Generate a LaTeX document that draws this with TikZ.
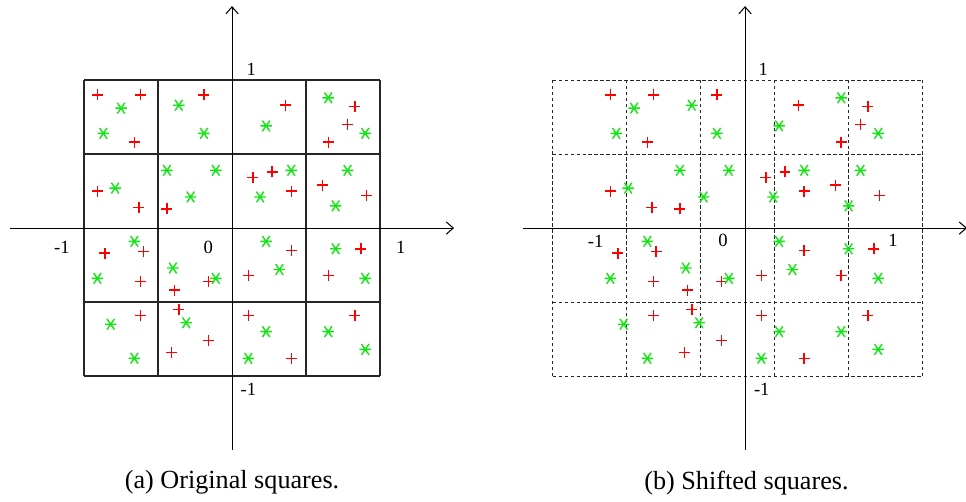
\documentclass[tikz,border=0pt]{standalone}
\usepackage{fontspec}
\setmainfont{Liberation Serif}
\usetikzlibrary{arrows.meta}
\definecolor{sqred}{rgb}{1,0,0}
\definecolor{sqgreen}{rgb}{0.08,0.9,0.08}
\definecolor{sqline}{HTML}{262626}
% sample points, shared by both panels
\newcommand{\redpts}{-0.91/0.90, -0.62/0.90, -0.66/0.58, -0.19/0.90, -0.91/0.25, -0.63/0.14,
  -0.44/0.13, 0.36/0.83, 0.83/0.82, 0.78/0.70, 0.65/0.58, 0.14/0.34, 0.27/0.38, 0.40/0.25,
  0.61/0.29, 0.91/0.22, -0.86/-0.17, -0.60/-0.16, -0.62/-0.36, -0.16/-0.36, -0.39/-0.42,
  -0.36/-0.55, -0.16/-0.76, -0.41/-0.84, -0.62/-0.59, 0.40/-0.15, 0.11/-0.32, 0.87/-0.14,
  0.65/-0.32, 0.11/-0.59, 0.40/-0.88, 0.83/-0.59}
\newcommand{\greenpts}{-0.75/0.81, -0.87/0.64, -0.36/0.83, -0.19/0.64, -0.79/0.27, -0.44/0.39,
  -0.11/0.39, -0.28/0.21, 0.23/0.69, 0.65/0.88, 0.90/0.64, 0.40/0.39, 0.19/0.21, 0.78/0.39,
  0.70/0.15, -0.66/-0.09, -0.91/-0.34, -0.40/-0.27, -0.11/-0.34, -0.31/-0.64, -0.82/-0.65,
  -0.66/-0.88, 0.23/-0.09, 0.32/-0.28, 0.70/-0.14, 0.90/-0.34, 0.23/-0.70, 0.11/-0.88,
  0.65/-0.70, 0.90/-0.82}
\newcommand{\drawpts}{%
  \foreach \x/\y in \redpts {\draw[plusmk] (\x,\y) +(-0.037,0) -- +(0.037,0) +(0,-0.037) -- +(0,0.037);}
  \foreach \x/\y in \greenpts {\draw[starmk] (\x,\y) +(0:0.039) -- +(180:0.039)
    +(55:0.044) -- +(235:0.044) +(125:0.044) -- +(305:0.044);}}

\begin{document}
\begin{tikzpicture}[x=2.96cm, y=2.96cm,
      axis/.style={-{Straight Barb[length=4pt,width=7pt]}, line width=0.6pt},
      cell/.style={draw=sqline, line width=0.7pt},
      shcell/.style={draw=sqline, line width=0.6pt, dash pattern=on 2pt off 1.4pt},
      lbl/.style={font=\fontsize{10.6}{12}\selectfont, inner sep=0pt},
      captext/.style={font=\fontsize{14.9}{17}\selectfont, inner sep=0pt},
      plusmk/.style={color=sqred, line width=0.85pt},
      starmk/.style={color=sqgreen, line width=0.8pt}]
  \useasboundingbox (-1.568,-1.845) rectangle (4.959,1.541);
  % (a) original squares
  \foreach \v in {-1,-0.5,0.5,1} {\draw[cell] (\v,-1) -- (\v,1); \draw[cell] (-1,\v) -- (1,\v);}
  \drawpts
  \coordinate (aw) at (-1.5,0); \coordinate (ae) at (1.5,0);
  \coordinate (as) at (0,-1.5); \coordinate (an) at (0,1.5);
  \draw[axis] (aw) -- (ae); \draw[axis] (as) -- (an);
  \node[lbl] (atop) at (0.13,1.074) {1};
  \node[lbl] (abot) at (0.11,-1.09) {-1};
  \node[lbl] (aleft) at (-1.15,-0.13) {-1};
  \node[lbl] (azero) at (-0.16,-0.13) {0};
  \node[lbl] (aright) at (1.14,-0.13) {1};
  \node[captext] (capa) at (0,-1.72) {(a) Original squares.};
  % (b) shifted squares
  \begin{scope}[shift={(3.466,0)}]
    \foreach \v in {-1.3,-0.8,-0.3,0.2,0.7,1.2} {\draw[shcell] (\v,-1) -- (\v,1);}
    \foreach \v in {-1,-0.5,0.5,1} {\draw[shcell] (-1.3,\v) -- (1.2,\v);}
    \drawpts
    \coordinate (bw) at (-1.5,0); \coordinate (be) at (1.5,0);
    \coordinate (bs) at (0,-1.5); \coordinate (bn) at (0,1.5);
    \draw[axis] (bw) -- (be); \draw[axis] (bs) -- (bn);
    \node[lbl] (btop) at (0.124,1.074) {1};
    \node[lbl] (bbot) at (0.113,-1.09) {-1};
    \node[lbl] (bleft) at (-1.01,-0.093) {-1};
    \node[lbl] (bzero) at (-0.149,-0.086) {0};
    \node[lbl] (bright) at (1.0,-0.081) {1};
    \node[captext] (capb) at (0.01,-1.72) {(b) Shifted squares.};
  \end{scope}
\end{tikzpicture}
\end{document}
